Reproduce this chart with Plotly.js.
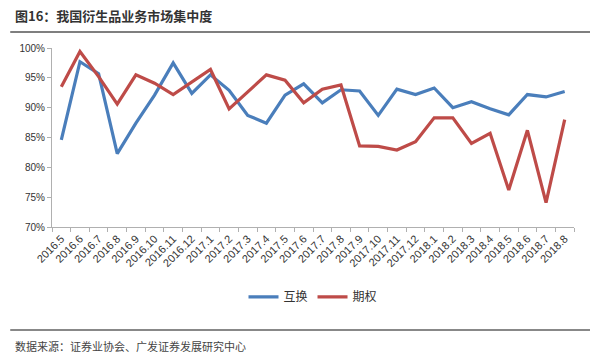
<!DOCTYPE html>
<html>
<head>
<meta charset="utf-8">
<script src="https://cdn.plot.ly/plotly-3.0.1.min.js"></script>
<style>html,body{margin:0;padding:0;background:#fff;}#chart{width:590px;height:364px;}</style>
</head>
<body>
<div id="chart"></div>
<script>
const months = ["2016.5","2016.6","2016.7","2016.8","2016.9","2016.10","2016.11","2016.12",
  "2017.1","2017.2","2017.3","2017.4","2017.5","2017.6","2017.7","2017.8","2017.9","2017.10","2017.11","2017.12",
  "2018.1","2018.2","2018.3","2018.4","2018.5","2018.6","2018.7","2018.8"];
const swapValues = [84.6,97.7,95.7,82.3,87.4,92.1,97.5,92.4,95.5,92.9,88.7,87.4,92.1,94.0,90.8,93.0,92.8,88.7,93.1,92.2,93.3,90.0,91.0,89.8,88.8,92.2,91.8,92.7];
const optionValues = [93.5,99.4,95.2,90.6,95.5,94.1,92.2,94.3,96.4,89.8,92.6,95.5,94.6,90.8,93.1,93.8,83.6,83.5,82.9,84.3,88.3,88.3,84.0,85.7,76.2,86.2,74.1,88.0];
const seriesNames = ["互换","期权"];
const yTicks = [70,75,80,85,90,95,100];
const yTickLabels = ["70%","75%","80%","85%","90%","95%","100%"];

const cjk = "Liberation Sans, Arial, Noto Sans CJK SC, sans-serif";
const traces = [
  {x: months, y: swapValues, name: seriesNames[0], type: "scatter", mode: "lines",
   line: {color: "#4a7ebb", width: 3.2}},
  {x: months, y: optionValues, name: seriesNames[1], type: "scatter", mode: "lines",
   line: {color: "#be4b48", width: 3.2}}
];
const layout = {
  width: 590, height: 364,
  margin: {l: 52, r: 16, t: 48, b: 137},
  paper_bgcolor: "#fff", plot_bgcolor: "#fff",
  font: {family: cjk, color: "#333", size: 10},
  showlegend: true,
  legend: {orientation: "h", x: 0.5, xanchor: "center", y: -0.39, yanchor: "middle",
    font: {family: "Noto Sans CJK SC, sans-serif", size: 12, color: "#333"}, itemwidth: 30},
  xaxis: {type: "category", range: [-0.5, 27.5], tickson: "boundaries",
    showline: true, linecolor: "#b0b0b0", linewidth: 1, ticks: "outside", ticklen: 4,
    tickcolor: "#b0b0b0", tickangle: -45, showgrid: false, zeroline: false,
    tickfont: {size: 11, color: "#333"}},
  yaxis: {range: [70, 100], tickvals: yTicks, ticktext: yTickLabels, showline: true,
    linecolor: "#b0b0b0", linewidth: 1, ticks: "outside", ticklen: 4, tickcolor: "#b0b0b0",
    showgrid: false, zeroline: false, tickfont: {size: 10, color: "#333"}},
  shapes: [
    {type: "line", xref: "paper", yref: "paper", x0: -0.08, x1: 1.031, y0: 1.089, y1: 1.089,
     line: {color: "#555", width: 1.5}},
    {type: "line", xref: "paper", yref: "paper", x0: -0.08, x1: 1.031, y0: -0.575, y1: -0.575,
     line: {color: "#888", width: 2}}
  ],
  annotations: [
    {text: "<b>图16：我国衍生品业务市场集中度</b>", xref: "paper", yref: "paper",
     x: -0.075, y: 1.184, xanchor: "left", yanchor: "middle", showarrow: false,
     font: {family: "Noto Sans CJK SC, sans-serif", size: 13, color: "#333"}},
    {text: "数据来源：证券业协会、广发证券发展研究中心", xref: "paper", yref: "paper",
     x: -0.075, y: -0.665, xanchor: "left", yanchor: "middle", showarrow: false,
     font: {family: "Noto Sans CJK SC, sans-serif", size: 11, color: "#444"}}
  ]
};
Plotly.newPlot("chart", traces, layout, {displayModeBar: false, staticPlot: true});
</script>
</body>
</html>
